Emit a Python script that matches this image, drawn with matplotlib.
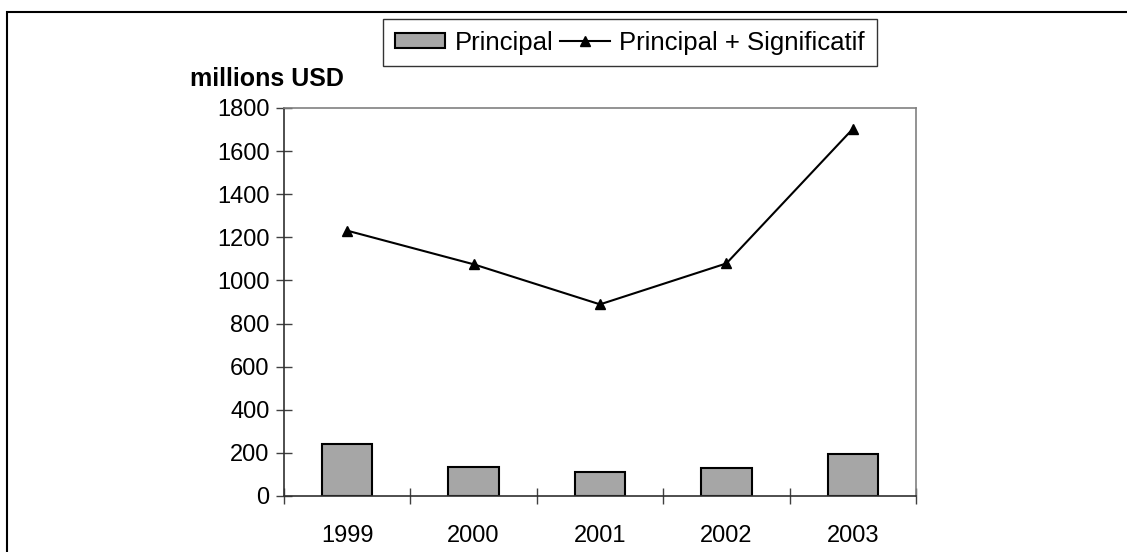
import matplotlib
matplotlib.use("Agg")
import matplotlib.pyplot as plt
from matplotlib.patches import Rectangle
from matplotlib.lines import Line2D

years = ["1999", "2000", "2001", "2002", "2003"]
principal = [241, 136, 110, 128, 193]
principal_signif = [1231, 1075, 889, 1079, 1703]
yticks = [0, 200, 400, 600, 800, 1000, 1200, 1400, 1600, 1800]

plt.rcParams['font.family'] = ['Liberation Sans', 'DejaVu Sans']

W, H = 1127, 552
FS = 17
LFS = 18.5
fig = plt.figure(figsize=(W / 100, H / 100), dpi=100)

def px(x0, y0, x1, y1):
    return [x0 / W, 1 - y1 / H, (x1 - x0) / W, (y1 - y0) / H]

# outer border
fig.patches.append(Rectangle((7 / W, -0.05), 1.2, 1 - 12 / H + 0.05, transform=fig.transFigure,
                             fill=False, edgecolor='black', linewidth=1.5))

ax = fig.add_axes(px(284, 108, 916, 496))
x = list(range(len(years)))
ax.bar(x, principal, width=0.4, color='#a6a6a6', edgecolor='black', linewidth=1.5, zorder=2)
ax.plot(x, principal_signif, color='black', linewidth=1.5, marker='^', markersize=7, zorder=3)

ax.set_xlim(-0.5, len(years) - 0.5)
ax.set_ylim(0, 1800)
ax.set_yticks(yticks)
ax.set_yticklabels([str(v) for v in yticks], fontsize=FS)
ax.set_xticks(x)
ax.set_xticklabels(years, fontsize=FS)
ax.set_xticks([i - 0.5 for i in range(len(years) + 1)], minor=True)
ax.tick_params(axis='x', which='major', length=0, pad=21)
ax.tick_params(axis='x', which='minor', direction='inout', length=11, width=1, color='#404040')
ax.tick_params(axis='y', direction='inout', length=11, width=1, color='#404040', pad=5)

for s in ['top', 'right']:
    ax.spines[s].set_color('#808080')
    ax.spines[s].set_linewidth(1.2)
for s in ['left', 'bottom']:
    ax.spines[s].set_color('#303030')
    ax.spines[s].set_linewidth(1.2)

fig.text(190 / W, 1 - 79 / H, "millions USD", fontsize=18, fontweight='bold', va='center', ha='left')

handles = [Rectangle((0, 0), 1, 1, facecolor='#a6a6a6', edgecolor='black', linewidth=1.5),
           Line2D([], [], color='black', linewidth=1.5, marker='^', markersize=7)]
leg = fig.legend(handles, ["Principal", "Principal + Significatif"], ncol=2,
                 loc='upper left', bbox_to_anchor=(383 / W, 1 - 19 / H),
                 fontsize=LFS, frameon=True, fancybox=False, edgecolor='black',
                 handlelength=1.95, handleheight=0.5, handletextpad=0.38, columnspacing=0.25,
                 borderpad=0.45, borderaxespad=0)
leg.get_frame().set_linewidth(1.0)

fig.savefig("out.png", dpi=100)
